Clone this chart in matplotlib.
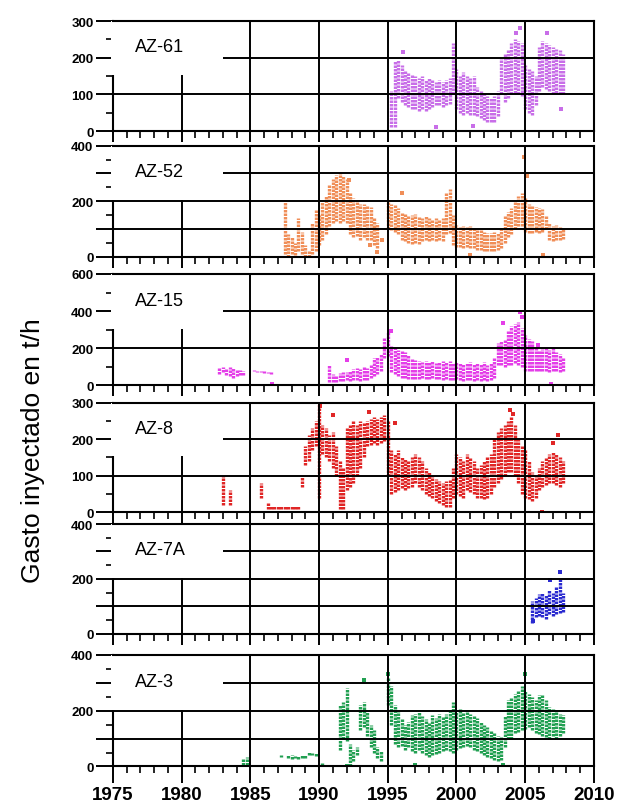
import matplotlib
matplotlib.use('Agg')
import matplotlib.pyplot as plt
from matplotlib.patches import Rectangle
from matplotlib.ticker import MultipleLocator

plt.rcParams['font.family'] = ['Liberation Sans', 'DejaVu Sans']

# ---- data (t/h), lo/hi envelope per sample ----
wells = ['AZ-61', 'AZ-52', 'AZ-15', 'AZ-8', 'AZ-7A', 'AZ-3']
colors = ['#c86ee8', '#f08e58', '#e43ee8', '#e02626', '#2a2ad0', '#22a052']
ymax = [300, 400, 600, 300, 400, 400]
label_step = [100, 200, 200, 100, 200, 200]
grid_step = [100, 100, 200, 100, 100, 100]
minor_step = [50, 50, 100, 50, 50, 50]
year_ticks = [1975, 1980, 1985, 1990, 1995, 2000, 2005, 2010]

az61_yr = [1995.25, 1995.5, 1995.75, 1996.0, 1996.25, 1996.5, 1996.75, 1997.0, 1997.25, 1997.5,
           1997.75, 1998.0, 1998.25, 1998.5, 1998.75, 1999.0, 1999.25, 1999.5, 1999.75, 2000.0,
           2000.25, 2000.5, 2000.75, 2001.0, 2001.25, 2001.5, 2001.75, 2002.0, 2002.25, 2002.5,
           2002.75, 2003.0, 2003.25, 2003.5, 2003.75, 2004.0, 2004.25, 2004.5, 2004.75, 2005.0,
           2005.25, 2005.5, 2005.75, 2006.0, 2006.25, 2006.5, 2006.75, 2007.0, 2007.25, 2007.5,
           2007.75]
az61_lo = [10, 10, 90, 80, 70, 65, 60, 60, 55, 60, 55, 60, 65, 70, 70, 65, 70, 75, 100, 60,
           50, 45, 50, 45, 45, 40, 35, 30, 25, 25, 25, 40, 100, 80, 90, 100, 105, 100, 95, 60,
           50, 45, 70, 110, 120, 115, 110, 100, 105, 100, 100]
az61_hi = [110, 190, 195, 180, 165, 160, 155, 150, 145, 150, 140, 145, 140, 135, 140, 135, 140, 145, 240, 170,
           150, 160, 150, 145, 150, 120, 110, 100, 95, 90, 95, 110, 200, 210, 220, 240, 250, 245, 240, 180,
           170, 165, 150, 230, 245, 240, 235, 230, 225, 220, 210]
az61_sx = [1996.1, 1998.5, 2004.6, 2006.6, 2007.6, 2001.2, 2004.3]
az61_sy = [215, 12, 282, 268, 60, 15, 268]

az52_yr = [1987.5, 1987.75, 1988.0, 1988.25, 1988.5, 1988.75, 1989.0, 1989.25, 1989.5, 1989.75,
           1990.0, 1990.25, 1990.5, 1990.75, 1991.0, 1991.25, 1991.5, 1991.75, 1992.0, 1992.25,
           1992.5, 1992.75, 1993.0, 1993.25, 1993.5, 1993.75, 1994.0, 1994.25,
           1995.0, 1995.25, 1995.5, 1995.75, 1996.0, 1996.25, 1996.5, 1996.75, 1997.0, 1997.25,
           1997.5, 1997.75, 1998.0, 1998.25, 1998.5, 1998.75, 1999.0, 1999.25, 1999.5, 1999.75,
           2000.0, 2000.25, 2000.5, 2000.75, 2001.0, 2001.25, 2001.5, 2001.75, 2002.0, 2002.25,
           2002.5, 2002.75, 2003.0, 2003.25, 2003.5, 2003.75, 2004.0, 2004.25, 2004.5, 2004.75,
           2005.0, 2005.25, 2005.5, 2005.75, 2006.0, 2006.25, 2006.5, 2006.75, 2007.0, 2007.25,
           2007.5, 2007.75]
az52_lo = [10, 0, 10, 5, 20, 10, 0, 0, 10, 20, 40, 60, 80, 110, 120, 130, 120, 130, 120, 80,
           70, 75, 60, 70, 60, 60, 40, 30,
           100, 95, 90, 80, 60, 55, 50, 45, 50, 45, 55, 60, 55, 60, 55, 60, 55, 80, 85, 40,
           35, 35, 30, 35, 30, 30, 25, 25, 20, 20, 20, 20, 25, 30, 50, 70, 80, 100, 110, 110,
           90, 85, 85, 90, 85, 90, 100, 60, 55, 60, 60, 65]
az52_hi = [200, 80, 70, 50, 140, 90, 40, 25, 120, 170, 150, 200, 220, 260, 280, 295, 300, 290, 280, 230,
           210, 200, 190, 190, 185, 180, 140, 120,
           200, 190, 185, 175, 160, 155, 150, 150, 155, 145, 140, 145, 140, 135, 140, 135, 140, 230, 245, 150,
           115, 110, 110, 105, 110, 105, 100, 95, 90, 85, 85, 90, 85, 100, 150, 160, 175, 200, 220, 230,
           210, 190, 185, 180, 175, 170, 150, 120, 110, 115, 105, 100]
az52_sx = [2004.9, 2005.1, 1992.2, 1994.2, 2001.0, 2006.3, 1996.0, 1993.7, 1994.6]
az52_sy = [360, 290, 275, 15, 5, 5, 230, 40, 60]

az15_yr = [1982.75, 1983.0, 1983.25, 1983.5, 1983.75, 1984.0, 1984.25, 1984.5,
           1985.25, 1985.5, 1985.75, 1986.0, 1986.25, 1986.5, 1987.0,
           1989.25, 1989.5, 1989.75, 1990.0, 1990.25, 1990.5,
           1990.75, 1991.0, 1991.25, 1991.5, 1991.75, 1992.0, 1992.25, 1992.5, 1992.75, 1993.0,
           1993.25, 1993.5, 1993.75, 1994.0, 1994.25, 1994.5, 1994.75, 1995.0, 1995.25, 1995.5,
           1995.75, 1996.0, 1996.25, 1996.5, 1996.75, 1997.0, 1997.25, 1997.5, 1997.75, 1998.0,
           1998.25, 1998.5, 1998.75, 1999.0, 1999.25, 1999.5, 1999.75, 2000.0, 2000.25, 2000.5,
           2000.75, 2001.0, 2001.25, 2001.5, 2001.75, 2002.0, 2002.25, 2002.5, 2002.75, 2003.0,
           2003.25, 2003.5, 2003.75, 2004.0, 2004.25, 2004.5, 2004.75, 2005.0, 2005.25, 2005.5,
           2005.75, 2006.0, 2006.25, 2006.5, 2006.75, 2007.0, 2007.25, 2007.5, 2007.75]
az15_lo = [60, 70, 55, 50, 40, 50, 55, 55, 75, 70, 70, 65, 65, 60, 0, 0, 0, 0, 0, 0, 0,
           20, 20, 20, 25, 25, 30, 25, 30, 30, 25, 30, 30, 40, 50, 60, 80, 150, 160, 70, 60,
           50, 40, 40, 35, 35, 35, 35, 40, 35, 35, 40, 35, 35, 30, 35, 30, 30, 35, 30, 25,
           30, 30, 25, 30, 25, 30, 25, 30, 40, 110, 110, 100, 110, 110, 120, 110, 100, 80, 75, 75,
           80, 75, 80, 75, 70, 80, 75, 70, 80]
az15_hi = [100, 100, 95, 100, 95, 90, 85, 75, 85, 80, 78, 75, 72, 70, 5, 5, 5, 5, 5, 5, 10,
           110, 60, 55, 65, 70, 70, 75, 90, 95, 90, 100, 95, 110, 150, 155, 170, 260, 290, 210, 200,
           190, 185, 180, 165, 150, 135, 130, 125, 130, 125, 130, 120, 125, 130, 125, 130, 120, 125, 120, 115,
           120, 125, 115, 120, 115, 125, 110, 120, 150, 230, 240, 250, 300, 320, 330, 340, 310, 270, 250, 240,
           200, 190, 195, 200, 190, 200, 180, 170, 150]
az15_sx = [2004.6, 2004.8, 1995.2, 2005.9, 2003.4, 1992.0, 1986.6, 2006.9]
az15_sy = [395, 370, 295, 215, 335, 135, 10, 5]

az8_yr = [1983.0, 1983.5, 1985.75, 1986.25, 1986.5, 1986.75, 1987.0, 1987.25, 1987.5, 1987.75,
          1988.0, 1988.25, 1988.5,
          1988.75, 1989.0, 1989.25, 1989.5, 1989.75, 1990.0, 1990.25, 1990.5, 1990.75, 1991.0,
          1991.25, 1991.5, 1991.75, 1992.0, 1992.25, 1992.5, 1992.75, 1993.0, 1993.25, 1993.5,
          1993.75, 1994.0, 1994.25, 1994.5, 1994.75, 1995.0, 1995.25, 1995.5, 1995.75, 1996.0,
          1996.25, 1996.5, 1996.75, 1997.0, 1997.25, 1997.5, 1997.75, 1998.0, 1998.25, 1998.5,
          1998.75, 1999.0, 1999.25, 1999.5, 1999.75, 2000.0, 2000.25, 2000.5, 2000.75, 2001.0,
          2001.25, 2001.5, 2001.75, 2002.0, 2002.25, 2002.5, 2002.75, 2003.0, 2003.25, 2003.5,
          2003.75, 2004.0, 2004.25, 2004.5, 2004.75, 2005.0, 2005.25, 2005.5, 2005.75, 2006.0,
          2006.25, 2006.5, 2006.75, 2007.0, 2007.25, 2007.5, 2007.75]
az8_lo = [20, 20, 40, 10, 10, 10, 10, 10, 10, 10, 10, 10, 10,
          70, 130, 140, 170, 180, 40, 160, 150, 140, 120, 100, 10, 10, 60, 70, 80, 100, 120, 150, 180,
          185, 190, 185, 190, 195, 100, 50, 55, 60, 65, 60, 65, 70, 80, 70, 60, 50, 45, 40, 30,
          25, 20, 15, 15, 40, 50, 45, 40, 60, 55, 50, 40, 40, 35, 40, 50, 70, 80, 90, 100,
          110, 110, 100, 80, 50, 40, 35, 30, 40, 60, 70, 75, 80, 80, 75, 70, 80]
az8_hi = [100, 60, 80, 25, 18, 18, 18, 18, 18, 18, 18, 18, 18,
          100, 180, 210, 230, 250, 300, 240, 230, 210, 220, 180, 140, 120, 230, 240, 250, 240, 250, 245, 250,
          255, 260, 255, 260, 265, 250, 170, 160, 170, 150, 145, 140, 150, 160, 150, 140, 120, 110, 100, 90,
          85, 80, 85, 90, 120, 160, 150, 140, 160, 150, 140, 120, 130, 140, 150, 160, 200, 220, 230, 240,
          250, 260, 240, 200, 180, 170, 140, 110, 100, 120, 140, 150, 160, 165, 160, 150, 140]
az8_sx = [1990.1, 1993.6, 1995.5, 2003.9, 2004.1, 2007.4, 2007.0, 2006.2, 1991.0]
az8_sy = [290, 275, 245, 280, 268, 210, 190, 0, 265]

az7a_yr = [2005.5, 2005.75, 2006.0, 2006.25, 2006.5, 2006.75, 2007.0, 2007.25, 2007.5, 2007.75]
az7a_lo = [40, 60, 65, 60, 55, 70, 65, 70, 75, 80]
az7a_hi = [120, 130, 145, 150, 140, 160, 150, 170, 200, 150]
az7a_sx = [2007.5, 2006.8, 2005.6]
az7a_sy = [225, 195, 45]

az3_yr = [1984.5, 1984.75, 1987.25, 1987.75, 1988.0, 1988.25, 1988.5, 1988.75, 1989.0, 1989.25,
          1989.5, 1989.75, 1990.25, 1991.5, 1991.75, 1992.0, 1992.25, 1992.5, 1992.75, 1993.0,
          1993.25, 1993.5, 1993.75, 1994.0, 1994.25, 1994.5,
          1995.0, 1995.25, 1995.5, 1995.75, 1996.0, 1996.25, 1996.5, 1996.75, 1997.0, 1997.25,
          1997.5, 1997.75, 1998.0, 1998.25, 1998.5, 1998.75, 1999.0, 1999.25, 1999.5, 1999.75,
          2000.0, 2000.25, 2000.5, 2000.75, 2001.0, 2001.25, 2001.5, 2001.75, 2002.0, 2002.25,
          2002.5, 2002.75, 2003.0, 2003.25, 2003.5, 2003.75, 2004.0, 2004.25, 2004.5, 2004.75,
          2005.0, 2005.25, 2005.5, 2005.75, 2006.0, 2006.25, 2006.5, 2006.75, 2007.0, 2007.25,
          2007.5, 2007.75]
az3_lo = [5, 5, 35, 30, 28, 30, 28, 30, 32, 42, 40, 38, 5, 60, 100, 90, 0, 20, 40, 130,
          140, 110, 70, 50, 30, 20,
          220, 150, 80, 70, 75, 60, 70, 55, 50, 60, 50, 40, 35, 40, 45, 50, 55, 60, 55, 50,
          60, 65, 70, 75, 70, 60, 55, 50, 40, 35, 30, 25, 20, 25, 70, 100, 100, 120, 125, 130,
          135, 140, 130, 120, 115, 110, 105, 100, 110, 100, 110, 120]
az3_hi = [30, 35, 42, 42, 40, 38, 36, 40, 42, 52, 50, 48, 12, 220, 230, 280, 80, 60, 70, 220,
          230, 200, 150, 130, 70, 55,
          320, 290, 220, 200, 170, 150, 160, 185, 190, 200, 180, 170, 160, 185, 175, 190, 180, 190, 200, 230,
          200, 205, 195, 200, 190, 180, 175, 160, 150, 140, 130, 120, 110, 105, 180, 240, 250, 260, 275, 290,
          270, 260, 250, 240, 255, 260, 240, 215, 205, 200, 190, 185]
az3_sx = [1993.3, 1995.0, 2005.0, 1992.0, 1997.0, 2003.4]
az3_sy = [310, 330, 330, 2, 5, 5]

series = [
    (az61_yr, az61_lo, az61_hi, az61_sx, az61_sy),
    (az52_yr, az52_lo, az52_hi, az52_sx, az52_sy),
    (az15_yr, az15_lo, az15_hi, az15_sx, az15_sy),
    (az8_yr, az8_lo, az8_hi, az8_sx, az8_sy),
    (az7a_yr, az7a_lo, az7a_hi, az7a_sx, az7a_sy),
    (az3_yr, az3_lo, az3_hi, az3_sx, az3_sy),
]

# panel boxes in figure fraction (left, bottom, width, height)
panel_pos = [
    (0.1824, 0.8357, 0.7771, 0.1368),
    (0.1824, 0.6797, 0.7771, 0.1377),
    (0.1824, 0.5194, 0.7771, 0.1386),
    (0.1824, 0.3617, 0.7771, 0.1363),
    (0.1824, 0.2107, 0.7771, 0.1363),
    (0.1824, 0.0454, 0.7771, 0.1387),
]

fig = plt.figure(figsize=(6.19, 8.04), dpi=100)

for i, name in enumerate(wells):
    ax = fig.add_axes(panel_pos[i])
    yr, lo, hi, sx, sy = series[i]

    ax.vlines(yr, lo, hi, colors=colors[i], linewidth=2.4,
              linestyles=(0, (0.75, 0.3)), zorder=1)
    ax.scatter(sx, sy, s=5, marker='s', color=colors[i], linewidths=0, zorder=1)

    ax.set_xlim(1975, 2010)
    ax.set_ylim(0, ymax[i])

    yt = list(range(0, ymax[i] + 1, grid_step[i]))
    ylabels = [str(v) if v % label_step[i] == 0 else '' for v in yt]
    ax.set_yticks(yt, labels=ylabels, fontweight='bold', fontsize=9.5)
    ax.yaxis.set_minor_locator(MultipleLocator(minor_step[i]))

    ax.set_xticks(year_ticks)
    ax.xaxis.set_minor_locator(MultipleLocator(1))
    if i == len(wells) - 1:
        ax.set_xticklabels([str(y) for y in year_ticks], fontweight='bold', fontsize=13.5)
        ax.tick_params(axis='x', which='major', length=12, pad=2)
    else:
        ax.set_xticklabels([])
        ax.tick_params(axis='x', which='major', length=8)

    ax.tick_params(axis='x', which='minor', direction='out', length=5, width=1.2)
    ax.tick_params(axis='x', which='major', direction='out', width=1.4)
    ax.tick_params(axis='y', which='major', direction='out', length=12, width=1.4, pad=2)
    ax.tick_params(axis='y', which='minor', direction='out', length=5, width=1.2)

    ax.set_axisbelow(False)
    ax.grid(True, which='major', color='black', linewidth=1.4)

    for side, sp in ax.spines.items():
        sp.set_linewidth(1.5)
        sp.set_color('black')
    ax.spines['left'].set_zorder(2.55)
    ax.spines['top'].set_zorder(2.8)

    # white label box in the upper left corner, covering the grid
    ax.add_patch(Rectangle((-0.004, 0.51), 0.233, 0.49, transform=ax.transAxes,
                           facecolor='white', edgecolor='none', zorder=2.6, clip_on=False))
    ax.text(0.045, 0.765, name, transform=ax.transAxes, fontsize=13,
            ha='left', va='center', zorder=3)

fig.text(0.053, 0.44, 'Gasto inyectado en t/h', rotation=90, fontsize=19,
         ha='center', va='center')

fig.savefig('out.png', dpi=100)
